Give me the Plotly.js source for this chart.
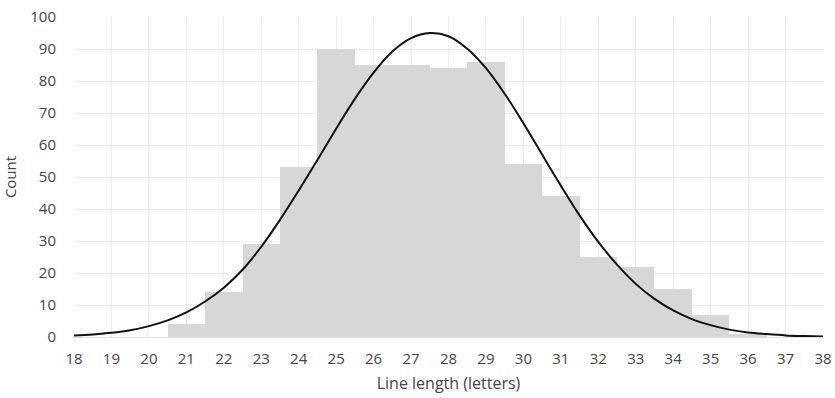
<!DOCTYPE html>
<html>
<head>
<meta charset="utf-8">
<script src="https://cdn.plot.ly/plotly-3.0.1.min.js"></script>
<style>html,body{margin:0;padding:0;background:#fff;}#chart{width:835px;height:398px;}</style>
</head>
<body>
<div id="chart"></div>
<script>
// Histogram bins (line length, letters) and counts
var binCenters = [21, 22, 23, 24, 25, 26, 27, 28, 29, 30, 31, 32, 33, 34, 35, 36];
var binCounts  = [4, 14, 29, 53, 90, 85, 85, 84, 86, 54, 44, 25, 22, 15, 7, 1];

// Fitted curve, values
var curveX = [18, 18.5, 19, 19.5, 20, 20.5, 21, 21.5, 22, 22.5, 23, 23.5, 24, 24.5, 25, 25.5, 26, 26.5, 27, 27.5, 28, 28.5, 29, 29.5, 30, 30.5, 31, 31.5, 32, 32.5, 33, 33.5, 34, 34.5, 35, 35.5, 36, 36.5, 37, 37.5, 38];
var curveY = [0.45, 0.8, 1.3, 2.1, 3.4, 5.2, 7.7, 11.1, 15.4, 21.0, 28.2, 36.6, 45.8, 55.3, 65.1, 74.4, 82.6, 89.2, 93.4, 95.0, 94.0, 90.1, 84.0, 76.0, 66.8, 57.0, 47.3, 38.0, 29.7, 22.6, 16.6, 11.9, 8.3, 5.6, 3.7, 2.3, 1.4, 0.9, 0.5, 0.3, 0.16];

var xTicks = [18, 19, 20, 21, 22, 23, 24, 25, 26, 27, 28, 29, 30, 31, 32, 33, 34, 35, 36, 37, 38];
var yTicks = [0, 10, 20, 30, 40, 50, 60, 70, 80, 90, 100];

var font = "'Open Sans', Lato, sans-serif";
var textColor = "#444";

var traces = [
  {
    type: "bar",
    x: binCenters,
    y: binCounts,
    width: 1,
    marker: {color: "#d6d7d7", line: {width: 0}},
    hoverinfo: "x+y"
  },
  {
    type: "scatter",
    mode: "lines",
    x: curveX,
    y: curveY,
    line: {color: "#111", width: 2, shape: "spline", smoothing: 1},
    hoverinfo: "skip"
  }
];

var layout = {
  width: 835,
  height: 398,
  margin: {l: 74, r: 12, t: 17, b: 61},
  paper_bgcolor: "#fff",
  plot_bgcolor: "#fff",
  showlegend: false,
  bargap: 0,
  font: {family: font, color: textColor, size: 14},
  xaxis: {
    range: [18, 38],
    tickvals: xTicks,
    ticktext: xTicks.map(String),
    showgrid: true,
    gridcolor: "#ececec",
    gridwidth: 1,
    zeroline: false,
    showline: false,
    ticks: "outside",
    ticklen: 0,
    tickcolor: "rgba(0,0,0,0)",
    ticklabelstandoff: 8,
    tickfont: {size: 15, color: textColor},
    title: {text: "Line length (letters)", font: {size: 16, color: textColor}, standoff: 10}
  },
  yaxis: {
    range: [0, 100],
    tickvals: yTicks,
    ticktext: yTicks.map(String),
    showgrid: true,
    gridcolor: "#ececec",
    gridwidth: 1,
    zeroline: true,
    zerolinecolor: "#e0e0e0",
    zerolinewidth: 1,
    showline: false,
    ticks: "outside",
    ticklen: 0,
    tickcolor: "rgba(0,0,0,0)",
    ticklabelstandoff: 14,
    tickfont: {size: 15, color: textColor},
    title: {text: "Count", font: {size: 15, color: textColor}, standoff: 12}
  }
};

Plotly.newPlot("chart", traces, layout, {displayModeBar: false, staticPlot: true});
</script>
</body>
</html>
